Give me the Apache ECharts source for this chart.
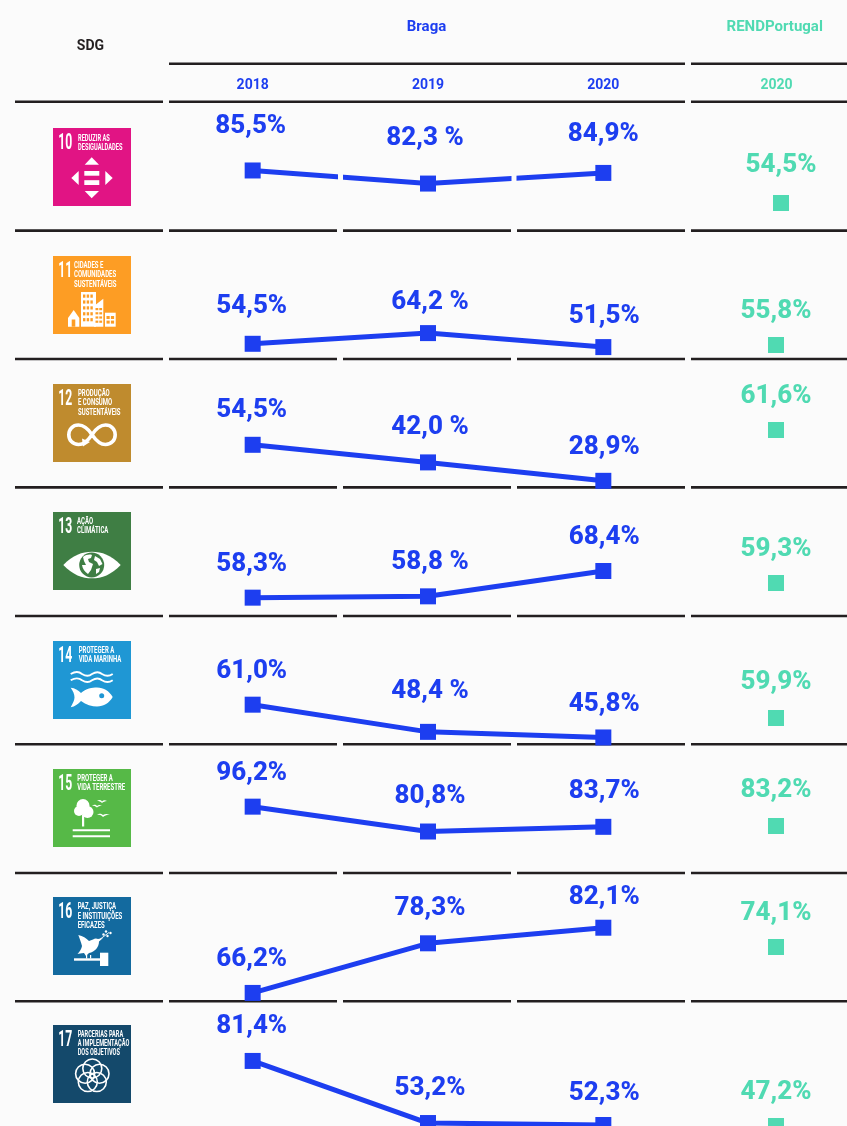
<!DOCTYPE html>
<html>
<head>
<meta charset="utf-8">
<title>SDG Braga</title>
<script src="https://cdn.jsdelivr.net/npm/echarts@6/dist/echarts.min.js"></script>
<style>
  html, body { margin: 0; padding: 0; background: #fbfbfb; }
  #main { width: 847px; height: 1126px; }
</style>
</head>
<body>
<div id="main"></div>
<script>
// data
var years = ['2018', '2019', '2020'];
var rendYear = ['2020'];
var braga10 = [85.5, 82.3, 84.9];
var braga11 = [54.5, 64.2, 51.5];
var braga12 = [54.5, 42.0, 28.9];
var braga13 = [58.3, 58.8, 68.4];
var braga14 = [61.0, 48.4, 45.8];
var braga15 = [96.2, 80.8, 83.7];
var braga16 = [66.2, 78.3, 82.1];
var braga17 = [81.4, 53.2, 52.3];
var rendPortugal = [54.5, 55.8, 61.6, 59.3, 59.9, 83.2, 74.1, 47.2];
var bragaRows = [braga10, braga11, braga12, braga13, braga14, braga15, braga16, braga17];
// the source writes "82,3 %" with a space in the 2019 column of the first five rows
var spaced2019 = [true, true, true, true, true, false, false, false];

// every row has its own hidden scale, the source has no shared axis
var bragaRange = [
  [70.85, 102.24], [40.88, 157.39], [24.37, 115.62], [51.51, 100.11],
  [42.77, 102.30], [55.47, 135.02], [64.28, 95.59], [50.40, 108.71]
];
var rendMax = [133.16, 145.05, 117.05, 133.91, 139.65, 147.06, 132.2, 144.7];

// label centres in the page
var bragaLabelY = [
  [125, 137, 133], [305, 301, 315], [409, 426, 446], [563, 561, 536],
  [670, 690, 703], [772, 795, 790], [958, 907, 896], [1025, 1087, 1092]
];
var rendLabelY = [164, 310, 395, 548, 681, 789, 912, 1091];

var BLUE = '#1d3ef0';
var GREEN = '#50dab2';
var DARK = '#231f20';
var BG = '#fbfbfb';
var WHITE = '#ffffff';
var FONT = 'Roboto';
var ROW_TOP = 102;
var ROW_H = 128.4;
var BRAGA_LEFT = 165;
var BRAGA_W = 526;
var REND_W = 150;
var LABEL_NUDGE = 1.5;

function rowTop(i) { return ROW_TOP + i * ROW_H; }
function yPixel(i, v, min, max) { return rowTop(i) + (max - v) / (max - min) * ROW_H; }
function fmt(v, spaced) { return v.toFixed(1).replace('.', ',') + (spaced ? ' %' : '%'); }

var grids = [], xAxes = [], yAxes = [], series = [];

function labelFont(color) {
  return { show: true, position: 'inside', color: color, fontFamily: FONT, fontWeight: 800, fontSize: 26, align: 'center', verticalAlign: 'middle' };
}

bragaRows.forEach(function (vals, i) {
  var range = bragaRange[i];
  var dx = i === 0 ? [-2, -3, 0] : [-1, 2, 1];

  // the last row runs past the page bottom, so no outerBounds squeeze
  grids.push({ left: BRAGA_LEFT, top: rowTop(i), width: BRAGA_W, height: ROW_H, outerBoundsMode: 'none' });
  xAxes.push({
    gridIndex: grids.length - 1, type: 'category', data: years, position: 'top',
    axisLine: { show: false }, axisTick: { show: false }, splitLine: { show: false },
    axisLabel: { show: i === 0, color: BLUE, fontFamily: FONT, fontWeight: 700, fontSize: 14, margin: 10 }
  });
  yAxes.push({ gridIndex: grids.length - 1, type: 'value', min: range[0], max: range[1], show: false, splitLine: { show: false } });
  series.push({
    type: 'line', xAxisIndex: grids.length - 1, yAxisIndex: grids.length - 1,
    symbol: 'rect', symbolSize: 16, clip: false, z: 5,
    itemStyle: { color: BLUE, opacity: 1 }, lineStyle: { color: BLUE, width: 5 },
    data: vals.map(function (v, k) {
      return {
        value: v,
        label: Object.assign(labelFont(BLUE), {
          formatter: fmt(v, k === 1 && spaced2019[i]),
          offset: [dx[k], bragaLabelY[i][k] + LABEL_NUDGE - yPixel(i, v, range[0], range[1])]
        })
      };
    })
  });

  var v = rendPortugal[i];
  var rMin = rendMax[i] - 100;
  var center = i === 0 ? 781 : 776;
  grids.push({ left: center - REND_W / 2, top: rowTop(i), width: REND_W, height: ROW_H, outerBoundsMode: 'none' });
  xAxes.push({
    gridIndex: grids.length - 1, type: 'category', data: rendYear, position: 'top',
    axisLine: { show: false }, axisTick: { show: false }, splitLine: { show: false },
    axisLabel: { show: i === 0, color: GREEN, fontFamily: FONT, fontWeight: 700, fontSize: 14, margin: 10, padding: [0, 9, 0, 0] }
  });
  yAxes.push({ gridIndex: grids.length - 1, type: 'value', min: rMin, max: rendMax[i], show: false, splitLine: { show: false } });
  series.push({
    type: 'line', xAxisIndex: grids.length - 1, yAxisIndex: grids.length - 1,
    symbol: 'rect', symbolSize: 16, clip: false, z: 5,
    itemStyle: { color: GREEN, opacity: 1 },
    data: [{
      value: v,
      label: Object.assign(labelFont(GREEN), {
        formatter: fmt(v, false),
        offset: [0, rendLabelY[i] + LABEL_NUDGE - yPixel(i, v, rMin, rendMax[i])]
      })
    }]
  });
});

// table rules
var graphics = [];
function rule(x1, x2, y, h) {
  graphics.push({ type: 'rect', silent: true, z: 1, shape: { x: x1, y: y, width: x2 - x1, height: h }, style: { fill: DARK } });
}
rule(169, 685, 62.5, 2.6);
rule(691, 847, 62.5, 2.6);
rule(15, 163, 100.5, 2.6);
rule(169, 685, 100.5, 2.6);
rule(691, 847, 100.5, 2.6);
[229.3, 357.7, 486.1, 614.7, 743, 871.7, 1000].forEach(function (y) {
  [[15, 163], [169, 337], [343, 511], [517, 685], [691, 847]].forEach(function (c) { rule(c[0], c[1], y, 2.6); });
});
// first row: the table's cell gaps cut the line
[338, 511.5].forEach(function (x) {
  graphics.push({ type: 'rect', silent: true, z: 20, shape: { x: x, y: 140, width: 5, height: 60 }, style: { fill: BG } });
});

// SDG tiles, drawn in tile coordinates 0..78
var TILE_FONT = '700 10px Roboto, sans-serif';
function tileText(num, lines, textX, lineYs, narrow) {
  var out = [{
    type: 'text', x: 5.3, y: 15, scaleX: 1.22, scaleY: 2.2,
    style: { text: num, fill: WHITE, font: TILE_FONT, align: 'left', verticalAlign: 'middle' }
  }];
  lines.forEach(function (t, k) {
    out.push({
      type: 'text', x: textX, y: lineYs[k], scaleX: narrow || 0.6, scaleY: 0.88,
      style: { text: t, fill: WHITE, font: TILE_FONT, align: 'left', verticalAlign: 'middle' }
    });
  });
  return out;
}
function poly(points) { return { type: 'polygon', shape: { points: points }, style: { fill: WHITE } }; }
function box(x, y, w, h, fill) { return { type: 'rect', shape: { x: x, y: y, width: w, height: h }, style: { fill: fill || WHITE } }; }
// svg path pictogram: the graphic component only knows registered shapes
var pathCount = 0;
function svg(d, fill, stroke, lw) {
  var name = 'tilePath' + (pathCount++);
  echarts.graphic.registerShape(name, echarts.graphic.extendPath(d, {}));
  return { type: name, style: { fill: fill || 'none', stroke: stroke || 'none', lineWidth: lw || 0 } };
}
function windows(x, y, cols, rows, w, h, gx, gy, fill) {
  var out = [];
  for (var r = 0; r < rows; r++) for (var c = 0; c < cols; c++) out.push(box(x + c * (w + gx), y + r * (h + gy), w, h, fill));
  return out;
}

var tiles = [
  { y: 128, color: '#e11484', parts: function (c) {
    return tileText('10', ['REDUZIR AS', 'DESIGUALDADES'], 25, [10.5, 19.5], 0.57).concat([
      poly([[38.7, 29.3], [46, 36.7], [31.7, 36.7]]),
      poly([[38.7, 70.3], [46, 63], [31.7, 63]]),
      poly([[18.3, 50], [25.7, 43], [25.7, 57]]),
      poly([[59.7, 50], [52.3, 43], [52.3, 57]]),
      box(31.3, 43, 15, 4.7), box(31.3, 52.2, 15, 4.8)
    ]);
  } },
  { y: 256, color: '#fd9d24', parts: function (c) {
    return tileText('11', ['CIDADES E', 'COMUNIDADES', 'SUSTENTÁVEIS'], 21, [9.5, 18.7, 28.5]).concat([
      box(28, 36, 15, 34.7),
      poly([[15, 62], [20.7, 54], [26.3, 62], [26.3, 70.7], [15, 70.7]]),
      poly([[41, 70.7], [41, 50], [50.3, 42.7], [50.3, 70.7]]),
      box(52, 56.7, 10.7, 14)
    ], windows(30, 38.5, 3, 5, 2.4, 3.2, 1.3, 2.7, c), windows(42.5, 52, 2, 4, 2.8, 2.2, 1, 2, c),
      windows(53.5, 60, 2, 2, 3.2, 3, 1.2, 1.6, c), [box(18.7, 63.5, 3.6, 7.2, c)]);
  } },
  { y: 384, color: '#bf8b2e', parts: function (c) {
    return tileText('12', ['PRODUÇÃO', 'E CONSUMO', 'SUSTENTÁVEIS'], 25, [9.7, 19, 28.3]).concat([
      svg('M39,50.7C34,43 30,41 25.5,41C19.5,41 15.8,45.5 15.8,50.7C15.8,56 19.5,60.5 25.5,60.5C30,60.5 34,58 39,50.7C44,43 48,41 52.5,41C58.5,41 62.2,45.5 62.2,50.7C62.2,56 58.5,60.5 52.5,60.5C48,60.5 44,58 39,50.7', null, WHITE, 3.6),
      poly([[29, 54.5], [37, 58], [30, 62.5]])
    ]);
  } },
  { y: 512, color: '#3f7e44', parts: function (c) {
    return tileText('13', ['AÇÃO', 'CLIMÁTICA'], 24, [9.3, 19]).concat([
      svg('M10.3,53C20,43 29,39.7 39,39.7C49,39.7 58,43 67.7,53C58,63 49,66.3 39,66.3C29,66.3 20,63 10.3,53Z', WHITE),
      { type: 'circle', shape: { cx: 38.7, cy: 53, r: 12.5 }, style: { fill: c } },
      svg('M30,45C33,42.5 37,42 39,43L38,46L35,47L36,50L40,52L38,58L35,62C32,60 29.5,57 29,53L33,53L31,49Z', WHITE),
      svg('M42,44L47,47L49.5,52L46,54L44,50L41,48Z', WHITE),
      svg('M43,57L47,56L46,60L43,62Z', WHITE)
    ]);
  } },
  { y: 641, color: '#1f97d4', parts: function (c) {
    return tileText('14', ['PROTEGER A', 'VIDA MARINHA'], 25.7, [9.7, 19]).concat([
      svg('M17.7,33C22,30.5 26,30.5 29,33C33,35.5 36,35.5 39,33C43,30.5 46,30.5 49,33C53,35.5 56,35.5 59.7,33', null, WHITE, 1.9),
      svg('M17.7,39.3C22,36.8 26,36.8 29,39.3C33,41.8 36,41.8 39,39.3C43,36.8 46,36.8 49,39.3C53,41.8 56,41.8 59.7,39.3', null, WHITE, 1.9),
      svg('M17.7,46.7C22,47 25,49 28,52C33,47.5 39,46.5 44,46.5C51,46.5 56,50 59.7,56C56,62 51,65.5 44,65.5C39,65.5 33,64 28,60C25,63 22,65.5 17.7,66.3C20,62 21.5,59 21.5,56.5C21.5,53 20,50 17.7,46.7Z', WHITE),
      { type: 'circle', shape: { cx: 48.7, cy: 54.7, r: 2.5 }, style: { fill: c } }
    ]);
  } },
  { y: 769, color: '#56b947', parts: function (c) {
    return tileText('15', ['PROTEGER A', 'VIDA TERRESTRE'], 24.3, [9.5, 19]).concat([
      { type: 'circle', shape: { cx: 30, cy: 36.5, r: 6.5 }, style: { fill: WHITE } },
      { type: 'circle', shape: { cx: 26, cy: 42, r: 5 }, style: { fill: WHITE } },
      { type: 'circle', shape: { cx: 34.5, cy: 43, r: 6 }, style: { fill: WHITE } },
      box(29, 46, 2.2, 11.5),
      box(19.7, 60.3, 37.3, 2), box(19.7, 66.3, 37.3, 2),
      svg('M44,32C46,30.5 48,31 49,32.5C50.5,31 52,31 54,32C52,32 50,33 49,34C47.5,32.5 46,32 44,32Z', WHITE),
      svg('M39,36.7C41,35.3 43,35.7 44,37C45.5,35.7 47,35.7 49,36.5C47,36.7 45,37.5 44,38.5C42.5,37 41,36.7 39,36.7Z', WHITE),
      svg('M44,45.5C46,44.2 48.5,44.6 50,46C52,44.6 54,44.6 57,45.5C54,45.7 52,46.7 50,48C48.5,46.2 46,45.5 44,45.5Z', WHITE)
    ]);
  } },
  { y: 897, color: '#136a9f', parts: function (c) {
    return tileText('16', ['PAZ, JUSTIÇA', 'E INSTITUIÇÕES', 'EFICAZES'], 24.7, [10, 19.5, 28.7]).concat([
      svg('M25.3,38C30,39 33,41 36,44L40,42.5C42,41 44,41.5 45,42L50,41L46,44.5C46,50 42,55 36,56L33,59L31,56C28,56 26,57 24.5,57C27,54 28.5,52 29,49C28,45 26.5,41 25.3,38Z', WHITE),
      svg('M46,43L56,35.5', null, WHITE, 0.9),
      { type: 'circle', shape: { cx: 53, cy: 34.5, r: 1.2 }, style: { fill: WHITE } },
      { type: 'circle', shape: { cx: 57.5, cy: 36, r: 1.2 }, style: { fill: WHITE } },
      { type: 'circle', shape: { cx: 50.5, cy: 37.5, r: 1.2 }, style: { fill: WHITE } },
      { type: 'circle', shape: { cx: 54.5, cy: 39, r: 1.2 }, style: { fill: WHITE } },
      box(21, 61.3, 26, 2.4), box(47, 55.7, 8.3, 13.3),
      box(33, 58, 1.2, 3.5), box(37, 58, 1.2, 3.5)
    ]);
  } },
  { y: 1025, color: '#14496b', parts: function (c) {
    return tileText('17', ['PARCERIAS PARA', 'A IMPLEMENTAÇÃO', 'DOS OBJETIVOS'], 24.7, [9.7, 18.7, 28], 0.56).concat(
      [[39.3, 43.5], [46.5, 48.7], [43.8, 57], [34.8, 57], [32.1, 48.7]].map(function (p) {
        return { type: 'circle', shape: { cx: p[0], cy: p[1], r: 9.5 }, style: { fill: 'none', stroke: WHITE, lineWidth: 1.6 } };
      })
    );
  } }
];

tiles.forEach(function (t) {
  graphics.push({
    type: 'group', x: 53, y: t.y, silent: true,
    children: [box(0, 0, 78, 78, t.color)].concat(t.parts(t.color))
  });
});

var chart = echarts.init(document.getElementById('main'));
chart.setOption({
  backgroundColor: BG,
  animation: false,
  title: [
    { text: 'SDG', left: 90.5, top: 39, textAlign: 'center', padding: 0, textStyle: { color: DARK, fontFamily: FONT, fontWeight: 700, fontSize: 14 } },
    { text: 'Braga', left: 426.5, top: 20, textAlign: 'center', padding: 0, textStyle: { color: BLUE, fontFamily: FONT, fontWeight: 700, fontSize: 15 } },
    { text: 'RENDPortugal', left: 774.7, top: 20, textAlign: 'center', padding: 0, textStyle: { color: GREEN, fontFamily: FONT, fontWeight: 700, fontSize: 15 } }
  ],
  grid: grids,
  xAxis: xAxes,
  yAxis: yAxes,
  series: series,
  graphic: { elements: graphics }
});
</script>
</body>
</html>
